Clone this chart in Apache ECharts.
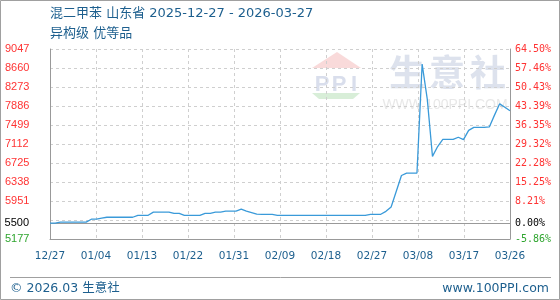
<!DOCTYPE html>
<html><head><meta charset="utf-8">
<script src="https://cdn.jsdelivr.net/npm/echarts@6/dist/echarts.min.js"></script>
<style>html,body{margin:0;padding:0;background:#fff}#c{width:560px;height:300px}</style>
</head><body><div id="c"></div>
<script>
const titleLine1 = '混二甲苯 山东省 2025-12-27 - 2026-03-27';
const titleLine2 = '异构级 优等品';
const footerLeft = '© 2026.03 生意社';
const footerRight = 'www.100PPI.com';
const xLabels = ['12/27','01/04','01/13','01/22','01/31','02/09','02/18','02/27','03/08','03/17','03/26'];
const leftTickLabels = ['5177','','5951','6338','6725','7112','7499','7886','8273','8660','9047'];
const rightTickLabels = ['-5.86%','','8.21%','15.25%','22.28%','29.32%','36.35%','43.39%','50.43%','57.46%','64.50%'];
const baseValue = 5500;
const baseLabelLeft = '5500';
const baseLabelRight = '0.00%';
// daily prices 12/27 .. 03/26
const prices = [
  5500, 5500, 5520, 5520, 5520, 5520, 5520, 5520, 5580, 5580,
  5600, 5620, 5620, 5620, 5620, 5620, 5620, 5660, 5660, 5660,
  5725, 5725, 5725, 5725, 5700, 5700, 5660, 5660, 5660, 5660,
  5700, 5700, 5725, 5725, 5745, 5745, 5745, 5785, 5745, 5715,
  5685, 5680, 5680, 5680, 5660, 5660, 5660, 5660, 5660, 5660,
  5660, 5660, 5660, 5660, 5660, 5660, 5660, 5660, 5660, 5660,
  5660, 5660, 5680, 5680, 5680, 5740, 5830, 6150, 6470, 6520,
  6520, 6520, 8740, 8020, 6860, 7060, 7205, 7205, 7205, 7250,
  7200, 7390, 7450, 7450, 7450, 7460, 7700, 7930, 7860, 7790
];
const yMin = 5177, yMax = 9047, yStep = 387;
const xMax = prices.length - 1;
const xStep = xMax / (xLabels.length - 1);

const chart = echarts.init(document.getElementById('c'), null, {renderer: 'canvas'});
const blue = '#1d5f8e';
const red = '#ff3333';
const green = '#2fa52f';
const leftFont = '"Liberation Sans", Arial, sans-serif';
const monoFont = '"DejaVu Sans Mono", monospace';
const titleFont = '"DejaVu Sans", "Noto Sans CJK SC", sans-serif';

function tickIdx(v) { return Math.round((v - yMin) / yStep); }

chart.setOption({
  animation: false,
  backgroundColor: '#fff',
  grid: {left: 50, right: 50, top: 49, bottom: 61},
  title: [
    {text: titleLine1, left: 50, top: 7, padding: 0,
     textStyle: {color: blue, fontSize: 13, fontWeight: 'normal', fontFamily: titleFont}},
    {text: titleLine2, left: 50, top: 27, padding: 0,
     textStyle: {color: blue, fontSize: 13, fontWeight: 'normal', fontFamily: titleFont}}
  ],
  graphic: [
    {type: 'rect', shape: {x: 0.5, y: 0.5, width: 559, height: 299}, style: {fill: 'none', stroke: '#a0a0a0', lineWidth: 1}, z: 0},
    {type: 'line', shape: {x1: 10, y1: 277.5, x2: 551, y2: 277.5}, style: {stroke: '#a0a0a0', lineWidth: 1}},
    {type: 'text', x: 10, y: 289, style: {text: footerLeft, fill: blue, font: '12.5px ' + titleFont, textVerticalAlign: 'middle'}},
    {type: 'text', x: 549, y: 289, style: {text: footerRight, fill: blue, font: '12.5px ' + titleFont, textAlign: 'right', textVerticalAlign: 'middle'}},
    // watermark logo
    {type: 'polygon', shape: {points: [[312, 68], [337, 52], [361, 68]]}, style: {fill: '#f9dada'}, z: 0},
    {type: 'text', x: 322, y: 85, style: {text: 'P', fill: '#d9deec', font: 'bold 22px "Liberation Sans", Arial', textAlign: 'center', textVerticalAlign: 'middle'}, z: 0},
    {type: 'text', x: 339, y: 85, style: {text: 'P', fill: '#d9deec', font: 'bold 22px "Liberation Sans", Arial', textAlign: 'center', textVerticalAlign: 'middle'}, z: 0},
    {type: 'text', x: 354, y: 85, style: {text: 'I', fill: '#d9deec', font: 'bold 22px "Liberation Sans", Arial', textAlign: 'center', textVerticalAlign: 'middle'}, z: 0},
    {type: 'polygon', shape: {points: [[312, 93], [360, 93], [353, 99], [319, 99]]}, style: {fill: '#d8eed8'}, z: 0},
    {type: 'text', x: 407, y: 72, style: {text: '生', fill: '#dde2ed', font: 'bold 36px "Noto Sans CJK SC"', textAlign: 'center', textVerticalAlign: 'middle'}, z: 0},
    {type: 'text', x: 447, y: 72, style: {text: '意', fill: '#dde2ed', font: 'bold 36px "Noto Sans CJK SC"', textAlign: 'center', textVerticalAlign: 'middle'}, z: 0},
    {type: 'text', x: 488, y: 72, style: {text: '社', fill: '#dde2ed', font: 'bold 36px "Noto Sans CJK SC"', textAlign: 'center', textVerticalAlign: 'middle'}, z: 0},
    {type: 'text', x: 445, y: 105, style: {text: 'WWW.100PPI.COM', fill: '#e8e8e8', font: '14px "Liberation Sans", Arial', textAlign: 'center', textVerticalAlign: 'middle'}, z: 0}
  ],
  xAxis: {
    type: 'value', min: 0, max: xMax, interval: xStep,
    axisLine: {show: true, onZero: false, lineStyle: {color: '#999', width: 1}},
    axisTick: {show: false},
    splitLine: {show: true, lineStyle: {color: '#cfcfcf', type: [3, 3], width: 1}},
    axisLabel: {
      margin: 12, color: blue, fontSize: 10.5, fontFamily: titleFont,
      showMinLabel: true, showMaxLabel: true,
      formatter: v => xLabels[Math.round(v / xStep)] || ''
    }
  },
  yAxis: [
    {
      type: 'value', min: yMin, max: yMax, interval: yStep, position: 'left',
      axisLine: {show: true, onZero: false, lineStyle: {color: '#999', width: 1}},
      axisTick: {show: false},
      splitLine: {show: true, lineStyle: {color: '#cfcfcf', type: [3, 3], width: 1}},
      axisLabel: {
        align: 'left', margin: 45, fontSize: 11, fontFamily: leftFont,
        formatter: v => { const i = tickIdx(v); const t = leftTickLabels[i] || ''; return t ? (i === 0 ? '{g|' + t + '}' : '{r|' + t + '}') : ''; },
        rich: {r: {color: red, fontSize: 11, fontFamily: leftFont}, g: {color: green, fontSize: 11, fontFamily: leftFont}}
      }
    },
    {
      type: 'value', min: yMin, max: yMax, interval: yStep, position: 'right',
      axisLine: {show: true, onZero: false, lineStyle: {color: '#999', width: 1}},
      axisTick: {show: false},
      splitLine: {show: false},
      axisLabel: {
        margin: 5, fontSize: 10, fontFamily: monoFont,
        formatter: v => { const i = tickIdx(v); const t = rightTickLabels[i] || ''; return t ? (i === 0 ? '{g|' + t + '}' : '{r|' + t + '}') : ''; },
        rich: {r: {color: red, fontSize: 10, fontFamily: monoFont}, g: {color: green, fontSize: 10, fontFamily: monoFont}}
      }
    }
  ],
  series: [{
    type: 'line',
    data: prices.map((v, i) => [i, v]),
    showSymbol: false,
    lineStyle: {color: '#3a9ad9', width: 1.3},
    z: 5,
    markLine: {
      silent: true, symbol: 'none', animation: false,
      lineStyle: {color: '#999', type: 'solid', width: 1},
      data: [
        {yAxis: baseValue, label: {position: 'start', distance: 21, formatter: baseLabelLeft, color: '#000', fontSize: 11, fontFamily: leftFont}},
        {yAxis: baseValue, label: {position: 'end', distance: 5, formatter: baseLabelRight, color: '#000', fontSize: 10, fontFamily: monoFont}}
      ]
    }
  }]
});
</script>
</body></html>
